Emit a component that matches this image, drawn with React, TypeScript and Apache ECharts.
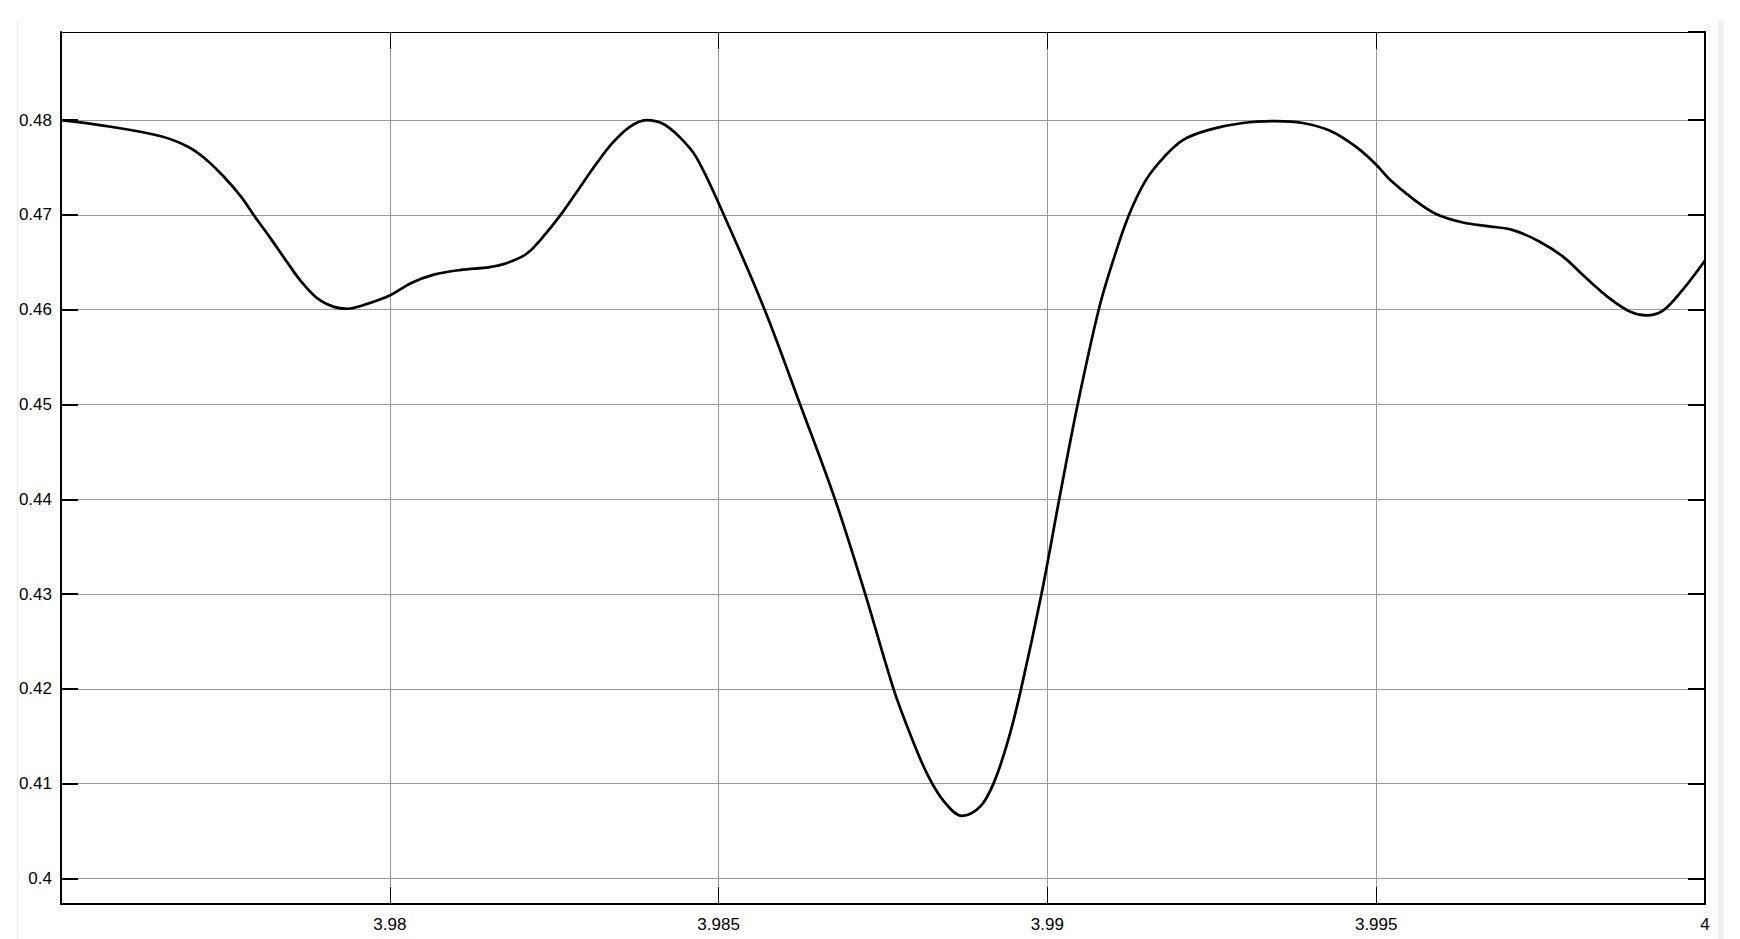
import React, { useEffect, useRef } from "react";
import * as echarts from "echarts";

const xValues: number[] = [
  3.975, 3.97576, 3.97652, 3.97693, 3.97718, 3.97748, 3.97774, 3.97796, 3.97819, 3.97845,
  3.97865, 3.9789, 3.97915, 3.97936, 3.97956, 3.98, 3.98032, 3.98067, 3.98108, 3.98152,
  3.98177, 3.98208, 3.98238, 3.98264, 3.98289, 3.98314, 3.9834, 3.98365, 3.9839, 3.98416,
  3.98441, 3.98466, 3.98508, 3.9857, 3.98624, 3.98677, 3.98723, 3.98766, 3.98792, 3.98818,
  3.98843, 3.9887, 3.98898, 3.98918, 3.9894, 3.9896, 3.98991, 3.99018, 3.99046, 3.99078,
  3.991, 3.99124, 3.9915, 3.99176, 3.99206, 3.99247, 3.99297, 3.99348, 3.99388, 3.99429,
  3.99469, 3.995, 3.99521, 3.99556, 3.99591, 3.99632, 3.99672, 3.99708, 3.99748, 3.99784,
  3.9982, 3.99855, 3.99886, 3.99911, 3.99936, 3.99966, 4.0,
];

const yValues: number[] = [
  0.48, 0.4793, 0.4783, 0.4772, 0.476, 0.474, 0.4719, 0.4697, 0.4675, 0.4649,
  0.463, 0.4612, 0.4603, 0.4601, 0.4604, 0.4615, 0.4628, 0.4637, 0.4642, 0.4645,
  0.4649, 0.4659, 0.4681, 0.4704, 0.4729, 0.4754, 0.4777, 0.4793, 0.48, 0.4796,
  0.4782, 0.4761, 0.47, 0.46, 0.45, 0.44, 0.43, 0.42, 0.4151, 0.4109,
  0.4081, 0.4066, 0.4076, 0.41, 0.4145, 0.42, 0.43, 0.44, 0.45, 0.46,
  0.4652, 0.47, 0.4737, 0.476, 0.4779, 0.479, 0.4797, 0.4799, 0.4797, 0.4789,
  0.4772, 0.4753, 0.4737, 0.4717, 0.4701, 0.4692, 0.4688, 0.4684, 0.4672, 0.4656,
  0.4633, 0.4612, 0.4598, 0.4594, 0.4599, 0.4621, 0.4652,
];

const xMin = 3.975;
const xMax = 4.0;
const xInterval = 0.005;
const yMin = 0.3973;
const yMax = 0.4893;

const FONT = "'Liberation Sans', Arial, sans-serif";

function fmtX(v: number): string {
  return String(parseFloat(v.toFixed(4)));
}
function fmtY(v: number): string {
  const r = Math.round(v * 100) / 100;
  if (Math.abs(r - v) > 1e-6) return "";
  return String(parseFloat(r.toFixed(2)));
}

export default function App() {
  const ref = useRef<HTMLDivElement>(null);
  useEffect(() => {
    if (!ref.current) return;
    const chart = echarts.init(ref.current, undefined, { renderer: "svg" });
    const data = xValues.map((x, i) => [x, yValues[i]]);
    chart.setOption({
      animation: false,
      backgroundColor: "#ffffff",
      grid: { left: 61, top: 32, right: 35, bottom: 35, containLabel: false },
      graphic: [
        { type: "rect", shape: { x: 17, y: 21, width: 1, height: 918 }, style: { fill: "#eeeeee" }, silent: true, z: -10 },
        { type: "rect", shape: { x: 1718, y: 21, width: 5, height: 918 }, style: { fill: "#f0f0f0" }, silent: true, z: -10 },
      ],
      xAxis: [
        {
          type: "value",
          position: "bottom",
          min: xMin,
          max: xMax,
          interval: xInterval,
          axisLine: { show: true, onZero: false, lineStyle: { color: "#000", width: 2 } },
          axisTick: { show: true, inside: true, length: 17, lineStyle: { color: "#000", width: 1 } },
          axisLabel: {
            show: true,
            showMinLabel: false,
            color: "#000",
            fontFamily: FONT,
            fontSize: 17,
            margin: 12,
            formatter: (v: number) => fmtX(v),
          },
          splitLine: { show: true, lineStyle: { color: "#999999", width: 1 } },
        },
        {
          type: "value",
          position: "top",
          min: xMin,
          max: xMax,
          interval: xInterval,
          axisLine: { show: true, onZero: false, lineStyle: { color: "#000", width: 1 } },
          axisTick: { show: true, inside: true, length: 17, lineStyle: { color: "#000", width: 1 } },
          axisLabel: { show: false },
          splitLine: { show: false },
        },
      ],
      yAxis: [
        {
          type: "value",
          position: "left",
          min: yMin,
          max: yMax,
          splitNumber: 9,
          axisLine: { show: true, onZero: false, lineStyle: { color: "#000", width: 2 } },
          axisTick: { show: true, inside: true, length: 17, lineStyle: { color: "#000", width: 2 } },
          axisLabel: {
            show: true,
            showMinLabel: false,
            showMaxLabel: false,
            color: "#000",
            fontFamily: FONT,
            fontSize: 17,
            margin: 9,
            formatter: (v: number) => fmtY(v),
          },
          splitLine: { show: true, lineStyle: { color: "#999999", width: 1 } },
        },
        {
          type: "value",
          position: "right",
          min: yMin,
          max: yMax,
          splitNumber: 9,
          axisLine: { show: true, onZero: false, lineStyle: { color: "#000", width: 2 } },
          axisTick: { show: true, inside: true, length: 17, lineStyle: { color: "#000", width: 2 } },
          axisLabel: { show: false },
          splitLine: { show: false },
        },
      ],
      series: [
        {
          type: "line",
          xAxisIndex: 0,
          yAxisIndex: 0,
          data,
          smooth: 0.35,
          showSymbol: false,
          symbol: "none",
          lineStyle: { color: "#000000", width: 2.7 },
          z: 5,
        },
      ],
    });
    return () => chart.dispose();
  }, []);
  return (
    <div
      ref={ref}
      style={{ position: "fixed", left: 0, top: 0, width: 1740, height: 939, background: "#fff" }}
    />
  );
}
